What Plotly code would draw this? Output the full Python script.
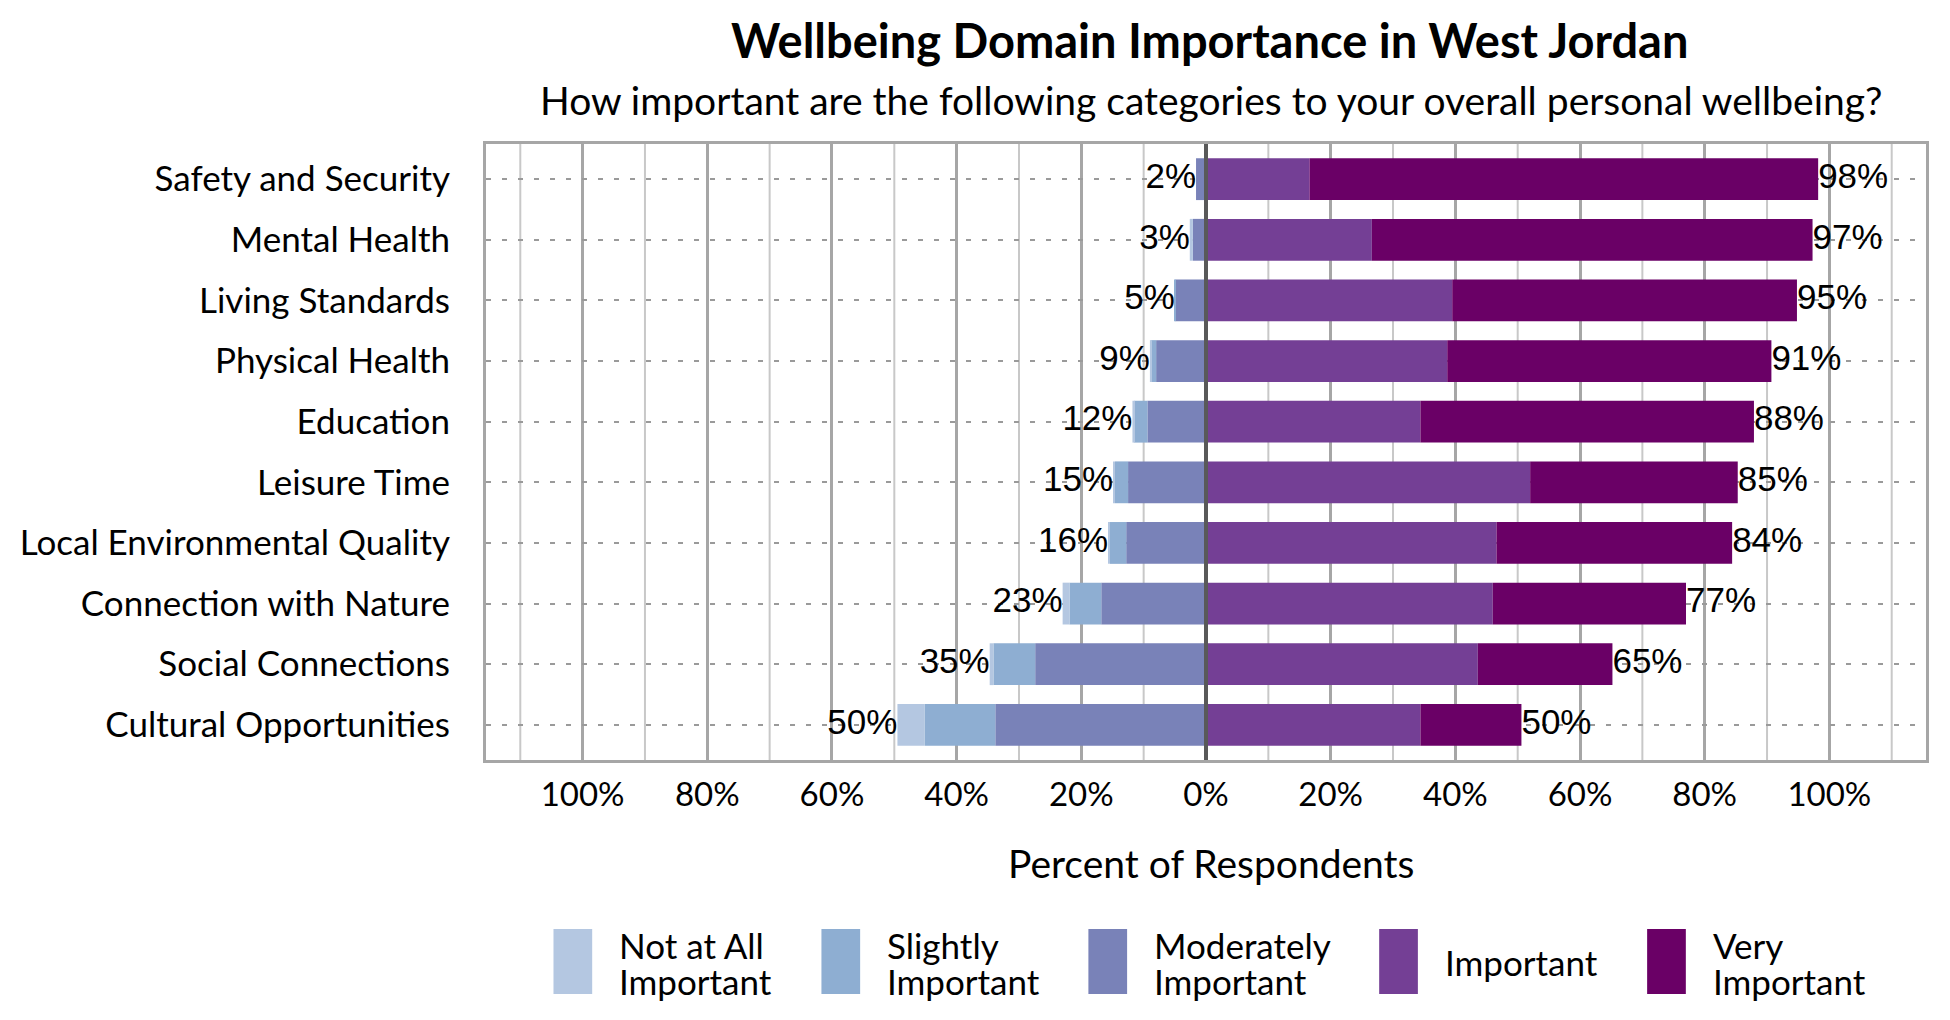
import plotly.graph_objects as go

# Survey: importance of wellbeing domains (percent of respondents)
categories = ['Safety and Security', 'Mental Health', 'Living Standards', 'Physical Health', 'Education',
              'Leisure Time', 'Local Environmental Quality', 'Connection with Nature', 'Social Connections',
              'Cultural Opportunities']

not_at_all = [0.0, 0.5, 0.0, 0.2, 0.3, 0.3, 0.3, 1.1, 0.6, 4.4]
slightly = [0.0, 0.0, 0.1, 0.8, 2.1, 2.1, 2.6, 5.1, 6.7, 11.3]
moderately = [1.6, 2.1, 4.9, 8.0, 9.4, 12.5, 12.8, 16.8, 27.4, 33.8]
important = [16.6, 26.6, 39.5, 38.7, 34.4, 52.0, 46.6, 46.0, 43.6, 34.4]
very = [81.6, 70.7, 55.3, 52.0, 53.5, 33.3, 37.8, 31.0, 21.6, 16.2]

low_labels = ['2%', '3%', '5%', '9%', '12%', '15%', '16%', '23%', '35%', '50%']
high_labels = ['98%', '97%', '95%', '91%', '88%', '85%', '84%', '77%', '65%', '50%']

tick_values = [-100, -80, -60, -40, -20, 0, 20, 40, 60, 80, 100]
tick_labels = ['100%', '80%', '60%', '40%', '20%', '0%', '20%', '40%', '60%', '80%', '100%']
minor_values = [-110, -90, -70, -50, -30, -10, 10, 30, 50, 70, 90, 110]

series_names = ['Not at All Important', 'Slightly Important', 'Moderately Important', 'Important', 'Very Important']
legend_lines = [['Not at All', 'Important'], ['Slightly', 'Important'], ['Moderately', 'Important'],
                ['Important'], ['Very', 'Important']]
colors = ['#B4C7E1', '#8EAED2', '#7982B8', '#743F95', '#6A0066']

# page body has an 8px margin, so the figure is sized to fit the 1950x1020 window
OFF = 8
W, H = 1950 - 2 * OFF, 1020 - 2 * OFF
PLOT_L, PLOT_R, PLOT_T, PLOT_B = 475, 1926, 144, 760
CAL = 'Lato'
ARIAL = 'Liberation Sans'


def px_x(p):
    return (p - PLOT_L) / (PLOT_R - PLOT_L)


def px_y(p):
    return (PLOT_B - p) / (PLOT_B - PLOT_T)


fig = go.Figure()

# negative side: stacked outward from zero
for vals, i in [(moderately, 2), (slightly, 1), (not_at_all, 0)]:
    fig.add_trace(go.Bar(y=categories, x=[-v for v in vals], orientation='h', name=series_names[i],
                         marker=dict(color=colors[i], line=dict(width=0)), showlegend=False))
for vals, i in [(important, 3), (very, 4)]:
    fig.add_trace(go.Bar(y=categories, x=vals, orientation='h', name=series_names[i],
                         marker=dict(color=colors[i], line=dict(width=0)), showlegend=False))

neg_total = [-(a + b + c) for a, b, c in zip(not_at_all, slightly, moderately)]
pos_total = [a + b for a, b in zip(important, very)]
fig.add_trace(go.Scatter(y=categories, x=neg_total, mode='text', text=low_labels, textposition='middle left',
                         textfont=dict(family=ARIAL, size=35, color='black'), showlegend=False, cliponaxis=False))
fig.add_trace(go.Scatter(y=categories, x=pos_total, mode='text', text=high_labels, textposition='middle right',
                         textfont=dict(family=ARIAL, size=35, color='black'), showlegend=False, cliponaxis=False))

fig.update_layout(
    width=W, height=H,
    margin=dict(l=PLOT_L - OFF, r=W + OFF - PLOT_R, t=PLOT_T - OFF, b=H + OFF - PLOT_B),
    barmode='relative', bargap=0.31,
    plot_bgcolor='white', paper_bgcolor='white',
    showlegend=False,
    font=dict(family=CAL, color='black'),
)
fig.update_xaxes(range=[-115.5, 115.5], tickvals=tick_values, ticktext=tick_labels,
                 tickfont=dict(family=CAL, size=33, color='black'), ticks='', ticklabelstandoff=3,
                 showgrid=True, gridcolor='#A6A6A6', gridwidth=3,
                 zeroline=False, showline=True, linecolor='#A6A6A6', linewidth=3, mirror=True)
fig.update_yaxes(categoryorder='array', categoryarray=categories, range=[9.58, -0.58],
                 tickfont=dict(family=CAL, size=35, color='black'), ticks='', ticklabelstandoff=26,
                 showgrid=True, gridcolor='#9A9A9A', gridwidth=2, griddash='5px,11px',
                 showline=True, linecolor='#A6A6A6', linewidth=3, mirror=True)

# lighter gridlines halfway between the labelled ones
for mv in minor_values:
    fig.add_shape(type='line', xref='x', yref='paper', x0=mv, x1=mv, y0=0, y1=1,
                  line=dict(color='#C8C8C8', width=2), layer='below')

# zero line above bars
fig.add_shape(type='line', xref='x', yref='paper', x0=0, x1=0, y0=0, y1=1,
              line=dict(color='#595959', width=4), layer='above')

# titles
fig.add_annotation(text='<b>Wellbeing Domain Importance in West Jordan</b>', xref='paper', yref='paper',
                   x=px_x(1204), y=px_y(40), xanchor='center', yanchor='middle', showarrow=False,
                   font=dict(family=CAL, size=47, color='black'))
fig.add_annotation(text='How important are the following categories to your overall personal wellbeing?',
                   xref='paper', yref='paper', x=px_x(1206), y=px_y(100), xanchor='center', yanchor='middle',
                   showarrow=False, font=dict(family=CAL, size=39, color='black'))
fig.add_annotation(text='Percent of Respondents', xref='paper', yref='paper', x=px_x(1206), y=px_y(863),
                   xanchor='center', yanchor='middle', showarrow=False, font=dict(family=CAL, size=39, color='black'))

# legend drawn as swatches + text
swatch_x = [543, 813, 1082, 1375, 1645]
for sx, col, lines in zip(swatch_x, colors, legend_lines):
    fig.add_shape(type='rect', xref='paper', yref='paper', x0=px_x(sx), x1=px_x(sx + 39),
                  y0=px_y(994), y1=px_y(929), fillcolor=col, line=dict(width=0))
    ys = [962] if len(lines) == 1 else [945, 981]
    for txt, ty in zip(lines, ys):
        fig.add_annotation(text=txt, xref='paper', yref='paper', x=px_x(sx + 64), y=px_y(ty),
                           xanchor='left', yanchor='middle', showarrow=False,
                           font=dict(family=CAL, size=35, color='black'))

fig.write_html('out.html')
